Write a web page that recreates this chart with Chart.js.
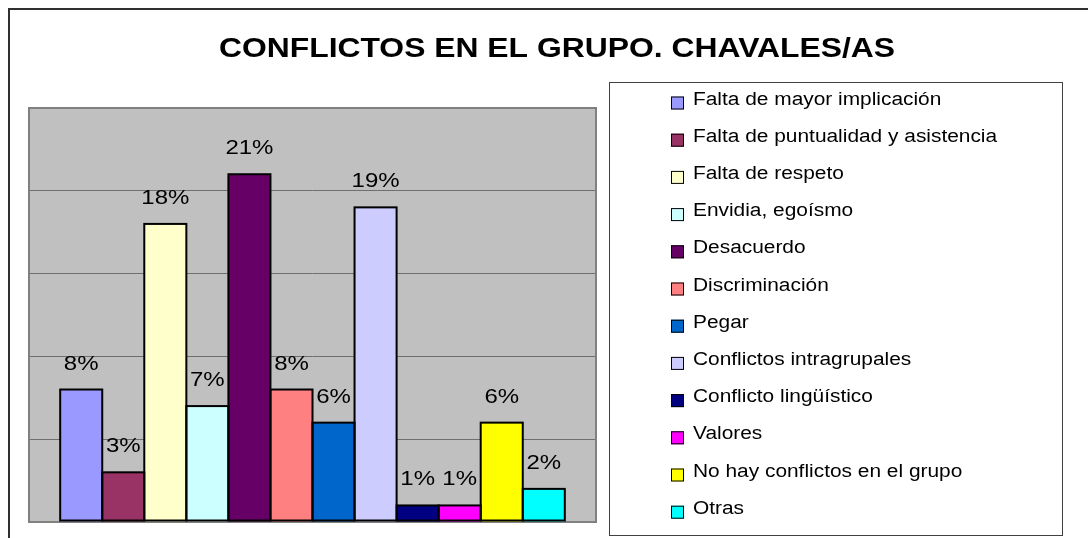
<!DOCTYPE html>
<html>
<head>
<meta charset="utf-8">
<script src="https://cdn.jsdelivr.net/npm/chart.js@4/dist/chart.umd.min.js"></script>
<style>
  html, body { margin: 0; padding: 0; background: #ffffff; }
  #wrap { width: 1088px; height: 538px; position: relative; }
</style>
</head>
<body>
<div id="wrap"><canvas id="c" width="1088" height="538"></canvas></div>
<script>
// ---- data ----
const chartTitle = 'CONFLICTOS EN EL GRUPO. CHAVALES/AS';
const categories = [''];
const seriesNames = [
  'Falta de mayor implicación',
  'Falta de puntualidad y asistencia',
  'Falta de respeto',
  'Envidia, egoísmo',
  'Desacuerdo',
  'Discriminación',
  'Pegar',
  'Conflictos intragrupales',
  'Conflicto lingüístico',
  'Valores',
  'No hay conflictos en el grupo',
  'Otras'
];
const seriesValues = [8, 3, 18, 7, 21, 8, 6, 19, 1, 1, 6, 2];
const seriesColors = [
  '#9999FF', '#993366', '#FFFFCC', '#CCFFFF', '#660066', '#FF8080',
  '#0066CC', '#CCCCFF', '#000080', '#FF00FF', '#FFFF00', '#00FFFF'
];
const yTickValues = [0, 5, 10, 15, 20, 25];

// ---- build datasets ----
const datasets = seriesNames.map((name, i) => ({
  label: name,
  data: [seriesValues[i]],
  backgroundColor: seriesColors[i],
  borderColor: '#000000',
  borderWidth: 0,
  categoryPercentage: 0.89,
  barPercentage: 1.0
}));

const FONT = '"Liberation Sans", Arial, sans-serif';

function stretchedText(ctx, text, x, y, font, sx, align) {
  ctx.save();
  ctx.font = font;
  ctx.textAlign = align || 'left';
  ctx.textBaseline = 'alphabetic';
  ctx.translate(x, y);
  ctx.scale(sx, 1);
  ctx.fillText(text, 0, 0);
  ctx.restore();
}

const decorPlugin = {
  id: 'decor',
  beforeDraw(chart) {
    const ctx = chart.ctx;
    const a = chart.chartArea;
    ctx.save();
    ctx.fillStyle = '#ffffff';
    ctx.fillRect(0, 0, chart.width, chart.height);
    // outer chart border (cropped at right/bottom)
    ctx.strokeStyle = '#303030';
    ctx.lineWidth = 2;
    ctx.beginPath();
    ctx.moveTo(9, chart.height + 2);
    ctx.lineTo(9, 9);
    ctx.lineTo(chart.width + 2, 9);
    ctx.stroke();
    // plot background
    ctx.fillStyle = '#C0C0C0';
    ctx.fillRect(a.left, a.top, a.right - a.left, a.bottom - a.top);
    ctx.restore();
  },
  beforeDatasetsDraw(chart) {
    const ctx = chart.ctx;
    const a = chart.chartArea;
    ctx.save();
    ctx.strokeStyle = '#808080';
    ctx.lineWidth = 2;
    ctx.strokeRect(a.left, a.top, a.right - a.left, a.bottom - a.top);
    ctx.restore();
  },
  afterDatasetsDraw(chart) {
    const ctx = chart.ctx;
    // bar outlines (2px, centred on the bar edges, from the library's bar elements)
    chart.data.datasets.forEach((ds, i) => {
      const meta = chart.getDatasetMeta(i);
      meta.data.forEach((bar) => {
        const p = bar.getProps(['x', 'y', 'base', 'width'], true);
        ctx.save();
        ctx.strokeStyle = '#000000';
        ctx.lineWidth = 2;
        ctx.strokeRect(p.x - p.width / 2, p.y, p.width, p.base - p.y - 1);
        ctx.restore();
      });
    });
    chart.data.datasets.forEach((ds, i) => {
      const meta = chart.getDatasetMeta(i);
      meta.data.forEach((bar, j) => {
        const v = ds.data[j];
        ctx.fillStyle = '#000000';
        stretchedText(ctx, v + '%', bar.x, bar.y - 20, '20px ' + FONT, 1.2, 'center');
      });
    });
  },
  afterDraw(chart) {
    const ctx = chart.ctx;
    // title
    ctx.fillStyle = '#000000';
    stretchedText(ctx, chartTitle, 557, 57, 'bold 27px ' + FONT, 1.18, 'center');
    // legend box
    ctx.save();
    ctx.fillStyle = '#ffffff';
    ctx.fillRect(609, 82, 453, 453);
    ctx.strokeStyle = '#404040';
    ctx.lineWidth = 1;
    ctx.strokeRect(609.5, 82.5, 453, 453);
    ctx.restore();
    chart.data.datasets.forEach((ds, i) => {
      const base = 104.5 + 37.2 * i;
      ctx.save();
      ctx.fillStyle = ds.backgroundColor;
      ctx.fillRect(671, base - 8, 13, 13);
      ctx.strokeStyle = '#000000';
      ctx.lineWidth = 1;
      ctx.strokeRect(671.5, base - 7.5, 12, 12);
      ctx.restore();
      ctx.fillStyle = '#000000';
      stretchedText(ctx, ds.label, 693, base, '18px ' + FONT, 1.16, 'left');
    });
  }
};

new Chart(document.getElementById('c'), {
  type: 'bar',
  data: { labels: categories, datasets: datasets },
  options: {
    responsive: false,
    animation: false,
    devicePixelRatio: 1,
    layout: { padding: { left: 29, right: 1088 - 596, top: 108, bottom: 538 - 522 } },
    plugins: {
      legend: { display: false },
      title: { display: false },
      tooltip: { enabled: false }
    },
    scales: {
      x: { display: false, grid: { display: false } },
      y: {
        display: true,
        min: yTickValues[0],
        max: yTickValues[yTickValues.length - 1],
        afterBuildTicks(scale) { scale.ticks = yTickValues.map(v => ({ value: v })); },
        ticks: { display: false },
        border: { display: false },
        grid: { color: '#6f6f6f', lineWidth: 1, drawTicks: false, tickLength: 0 }
      }
    }
  },
  plugins: [decorPlugin]
});
</script>
</body>
</html>
